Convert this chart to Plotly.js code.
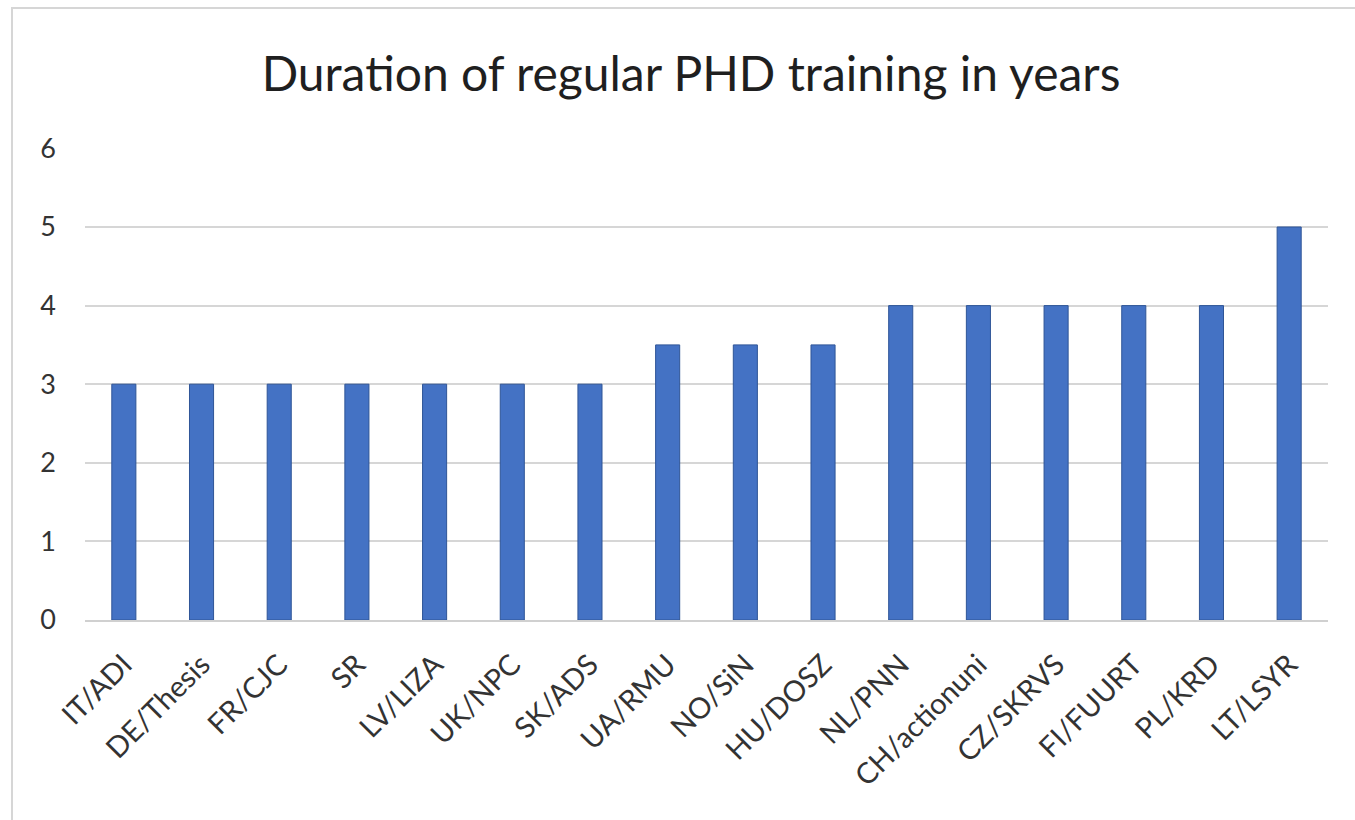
<!DOCTYPE html>
<html>
<head>
<meta charset="utf-8">
<script src="https://cdn.plot.ly/plotly-3.0.1.min.js"></script>
<style>
html,body{margin:0;padding:0;background:#fff;}
#wrap{position:relative;width:1355px;height:820px;overflow:hidden;}
#frame{position:absolute;left:11px;top:7px;width:1400px;height:900px;border-left:2px solid #d6d6d6;border-top:2px solid #d6d6d6;pointer-events:none;z-index:5;}
#chart{position:absolute;left:0;top:0;width:1355px;height:820px;}
</style>
</head>
<body>
<div id="wrap">
<div id="chart"></div>
<div id="frame"></div>
</div>
<script>
const categories = ["IT/ADI","DE/Thesis","FR/CJC","SR","LV/LIZA","UK/NPC","SK/ADS","UA/RMU","NO/SiN","HU/DOSZ","NL/PNN","CH/actionuni","CZ/SKRVS","FI/FUURT","PL/KRD","LT/LSYR"];
const years = [3,3,3,3,3,3,3,3.5,3.5,3.5,4,4,4,4,4,5];
const yTicks = [0,1,2,3,4,5,6];
const chartTitle = "Duration of regular PHD training in years";

const font = "Lato, 'Open Sans', 'DejaVu Sans', sans-serif";

Plotly.newPlot('chart', [{
  type: 'bar',
  x: categories,
  y: years,
  marker: {color: '#4472C4', line: {color: '#2F5597', width: 1}},
  hoverinfo: 'x+y'
}], {
  width: 1355,
  height: 820,
  margin: {l: 85, r: 27, t: 148, b: 200, pad: 0},
  paper_bgcolor: '#ffffff',
  plot_bgcolor: '#ffffff',
  bargap: 0.69,
  showlegend: false,
  title: {
    text: chartTitle,
    x: 0.51, xanchor: 'center',
    y: 0.91, yanchor: 'middle',
    font: {family: font, size: 48, color: '#1f1f1f'}
  },
  xaxis: {
    type: 'category',
    tickangle: -45,
    tickfont: {family: font, size: 29, color: '#333333'},
    showgrid: false,
    showline: true,
    linecolor: '#d0d0d0',
    linewidth: 2,
    ticks: '',
    ticklabelstandoff: 14,
    automargin: false
  },
  yaxis: {
    range: [0, 6.005],
    tickvals: yTicks,
    ticktext: yTicks.map(String),
    tickfont: {family: font, size: 27, color: '#333333'},
    showgrid: true,
    gridcolor: '#d6d6d6',
    gridwidth: 2,
    zeroline: false,
    showline: false,
    ticks: '',
    ticklabelstandoff: 28,
    automargin: false
  }
}, {displayModeBar: false, staticPlot: true});
</script>
</body>
</html>
